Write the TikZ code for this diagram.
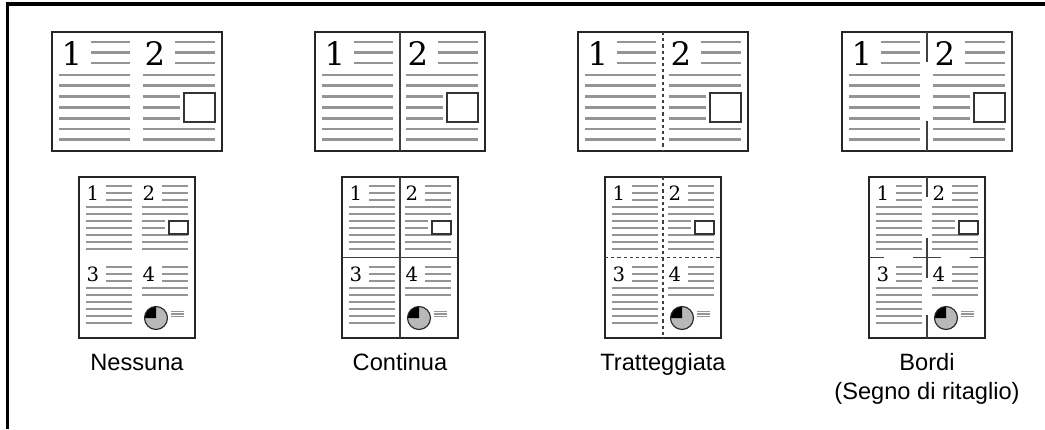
\documentclass[tikz,border=0pt]{standalone}
\usepackage{fontspec}
\newfontfamily\labelfont{Liberation Sans}
\newfontfamily\digitfont{DejaVu Serif}
\usetikzlibrary{positioning}

\newcommand{\bigsheet}[2]{%
\begin{scope}[shift={(#1-85,32)}]
\foreach \y in {10,20.5,31} {\draw[txt] (39,\y) -- (78,\y); \draw[txt] (123,\y) -- (163,\y);}
\foreach \i in {0,...,6} {\draw[txt] (7,43+10.8*\i) -- (78,43+10.8*\i);}
\foreach \i in {0,1,5,6} {\draw[txt] (91,43+10.8*\i) -- (163,43+10.8*\i);}
\foreach \i in {2,3,4} {\draw[txt] (91,43+10.8*\i) -- (128,43+10.8*\i);}
\draw[picbox] (132,61) rectangle (163,90);
\node[bigdigit] (#2one) at (20,21) {1};
\node[bigdigit] (#2two) at (103,21) {2};
\draw[pageline] (0,0) rectangle (170,119);
\end{scope}}

\newcommand{\smallsheet}[2]{%
\begin{scope}[shift={(#1-58,177)}]
\foreach \y in {9,16,23,90,97,104} {\draw[txt] (27,\y) -- (53,\y); \draw[txt] (83,\y) -- (109,\y);}
\foreach \i in {0,...,6} {\draw[txt] (7,30+7*\i) -- (53,30+7*\i);}
\foreach \i in {0,1,4,5,6} {\draw[txt] (63,30+7*\i) -- (109,30+7*\i);}
\foreach \i in {2,3} {\draw[txt] (63,30+7*\i) -- (86,30+7*\i);}
\foreach \i in {0,...,5} {\draw[txt] (7,111+7*\i) -- (53,111+7*\i);}
\foreach \i in {0,1} {\draw[txt] (63,111+7*\i) -- (109,111+7*\i);}
\draw[picbox] (90,44) rectangle (109,57);
\fill[black!28] (77,141) circle[radius=11.5];
\fill[black] (77,141) -- +(-11.5,0) arc[start angle=180,end angle=270,radius=11.5] -- cycle;
\draw[black!85,line width=0.8pt] (77,141) circle[radius=11.5];
\foreach \y in {134.5,137,139.5} {\draw[txt,line width=1.1pt] (92,\y) -- (105,\y);}
\node[smalldigit] (#2one) at (14,16) {1};
\node[smalldigit] (#2two) at (70,16) {2};
\node[smalldigit] (#2three) at (14,97) {3};
\node[smalldigit] (#2four) at (70,97) {4};
\draw[pageline] (0,0) rectangle (116,161);
\end{scope}}

\begin{document}
\begin{tikzpicture}[x=0.025cm,y=-0.025cm,
    txt/.style={black!42,line width=1.9pt},
    picbox/.style={draw=black!80,line width=0.8pt,fill=white},
    pageline/.style={draw=black!85,line width=1.1pt},
    divline/.style={black!75,line width=0.8pt},
    dashline/.style={divline,dash pattern=on 2.3pt off 2.1pt},
    bigdigit/.style={inner sep=0pt,font=\digitfont\fontsize{23}{25}\selectfont},
    smalldigit/.style={inner sep=0pt,font=\digitfont\fontsize{14}{16}\selectfont},
    caption/.style={anchor=base,inner sep=0pt,font=\labelfont\fontsize{16.8}{20}\selectfont}]
\useasboundingbox (0,0) rectangle (1045,429);
\draw[line width=2.3pt] (7.5,429) -- (7.5,4) -- (1045,4);

\bigsheet{137}{na}
\bigsheet{400}{co}
\bigsheet{663}{tr}
\bigsheet{927}{bo}
\smallsheet{137}{sna}
\smallsheet{400}{sco}
\smallsheet{663}{str}
\smallsheet{927}{sbo}

\draw[divline] (400,32) -- (400,151);
\draw[divline] (400,177) -- (400,338) (342,257.5) -- (458,257.5);
\draw[dashline] (663,32) -- (663,151);
\draw[dashline] (663,177) -- (663,338) (605,257.5) -- (721,257.5);
\draw[divline] (927,32) -- (927,62) (927,121) -- (927,151);
\draw[divline] (927,177) -- (927,197) (927,315) -- (927,338) (927,237.5) -- (927,277.5);
\draw[divline] (869,257.5) -- (884,257.5) (913,257.5) -- (941,257.5) (970,257.5) -- (985,257.5);

\node[caption] (nessuna) at (137,370) {Nessuna};
\node[caption] (continua) at (400,370) {Continua};
\node[caption] (tratt) at (663,370) {Tratteggiata};
\node[caption] (bordi) at (927,370) {Bordi};
\node[caption] (segno) at (927,399) {(Segno di ritaglio)};
\end{tikzpicture}
\end{document}
